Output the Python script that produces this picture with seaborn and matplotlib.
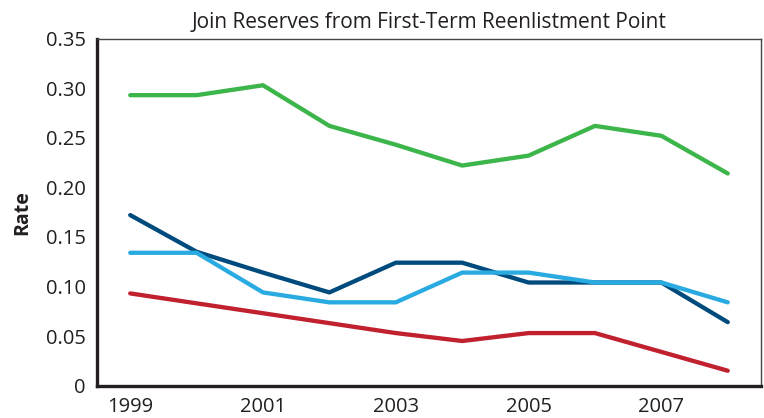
import numpy as np
import pandas as pd
import matplotlib
matplotlib.use('Agg')
import matplotlib.pyplot as plt
import seaborn as sns

# Values
years = [1999, 2000, 2001, 2002, 2003, 2004, 2005, 2006, 2007, 2008]
series_green = [0.293, 0.293, 0.303, 0.262, 0.243, 0.222, 0.232, 0.262, 0.252, 0.214]
series_navy = [0.172, 0.135, 0.114, 0.094, 0.124, 0.124, 0.104, 0.104, 0.104, 0.064]
series_sky = [0.134, 0.134, 0.094, 0.084, 0.084, 0.114, 0.114, 0.104, 0.104, 0.084]
series_red = [0.093, 0.083, 0.073, 0.063, 0.053, 0.045, 0.053, 0.053, 0.034, 0.015]
year_labels = ['1999', '2001', '2003', '2005', '2007']

colors = {'green': '#3cb54a', 'navy': '#004b7d', 'sky': '#29abe2', 'red': '#c1202f'}

df = pd.DataFrame({
    'pos': list(range(len(years))) * 4,
    'rate': series_green + series_navy + series_sky + series_red,
    'series': ['green'] * 10 + ['navy'] * 10 + ['sky'] * 10 + ['red'] * 10,
})

sns.set_style('white')
plt.rcParams['font.family'] = ['Open Sans', 'DejaVu Sans']

fig = plt.figure(figsize=(7.64, 4.18), dpi=100)
ax = fig.add_axes([0.127, 0.0775, 0.869, 0.83])

sns.lineplot(data=df, x='pos', y='rate', hue='series', palette=colors,
             linewidth=3.1, legend=False, ax=ax)

ax.set_xlim(-0.5, 9.5)
ax.set_ylim(0, 0.35)

# labels at category centres, tick marks at category boundaries
ax.set_xticks(range(0, 10, 2))
ax.set_xticklabels(year_labels)
ax.set_xticks(np.arange(0.5, 9.5, 1), minor=True)
ax.tick_params(axis='x', which='major', length=0, pad=8, labelsize=14.5, colors='#231f20')
ax.tick_params(axis='x', which='minor', direction='in', length=11, width=1.2, color='#333333')

ax.set_yticks(np.arange(0, 0.351, 0.05))
ax.set_yticklabels(['0'] + [f'{v:.2f}' for v in np.arange(0.05, 0.351, 0.05)])
ax.tick_params(axis='y', direction='in', length=16, width=1.2, color='#555555',
               pad=8, labelsize=14.5, labelcolor='#231f20')

ax.set_xlabel('')
ax.set_ylabel('Rate', fontsize=14, fontweight='bold', color='#231f20', labelpad=10)
ax.set_title('Join Reserves from First-Term Reenlistment Point', fontsize=15,
             color='#231f20', pad=8)

for side in ['left', 'bottom']:
    ax.spines[side].set_linewidth(2.4)
    ax.spines[side].set_color('#231f20')
for side in ['top', 'right']:
    ax.spines[side].set_linewidth(1.0)
    ax.spines[side].set_color('#444444')

fig.savefig('out.png', dpi=100)
plt.close(fig)
